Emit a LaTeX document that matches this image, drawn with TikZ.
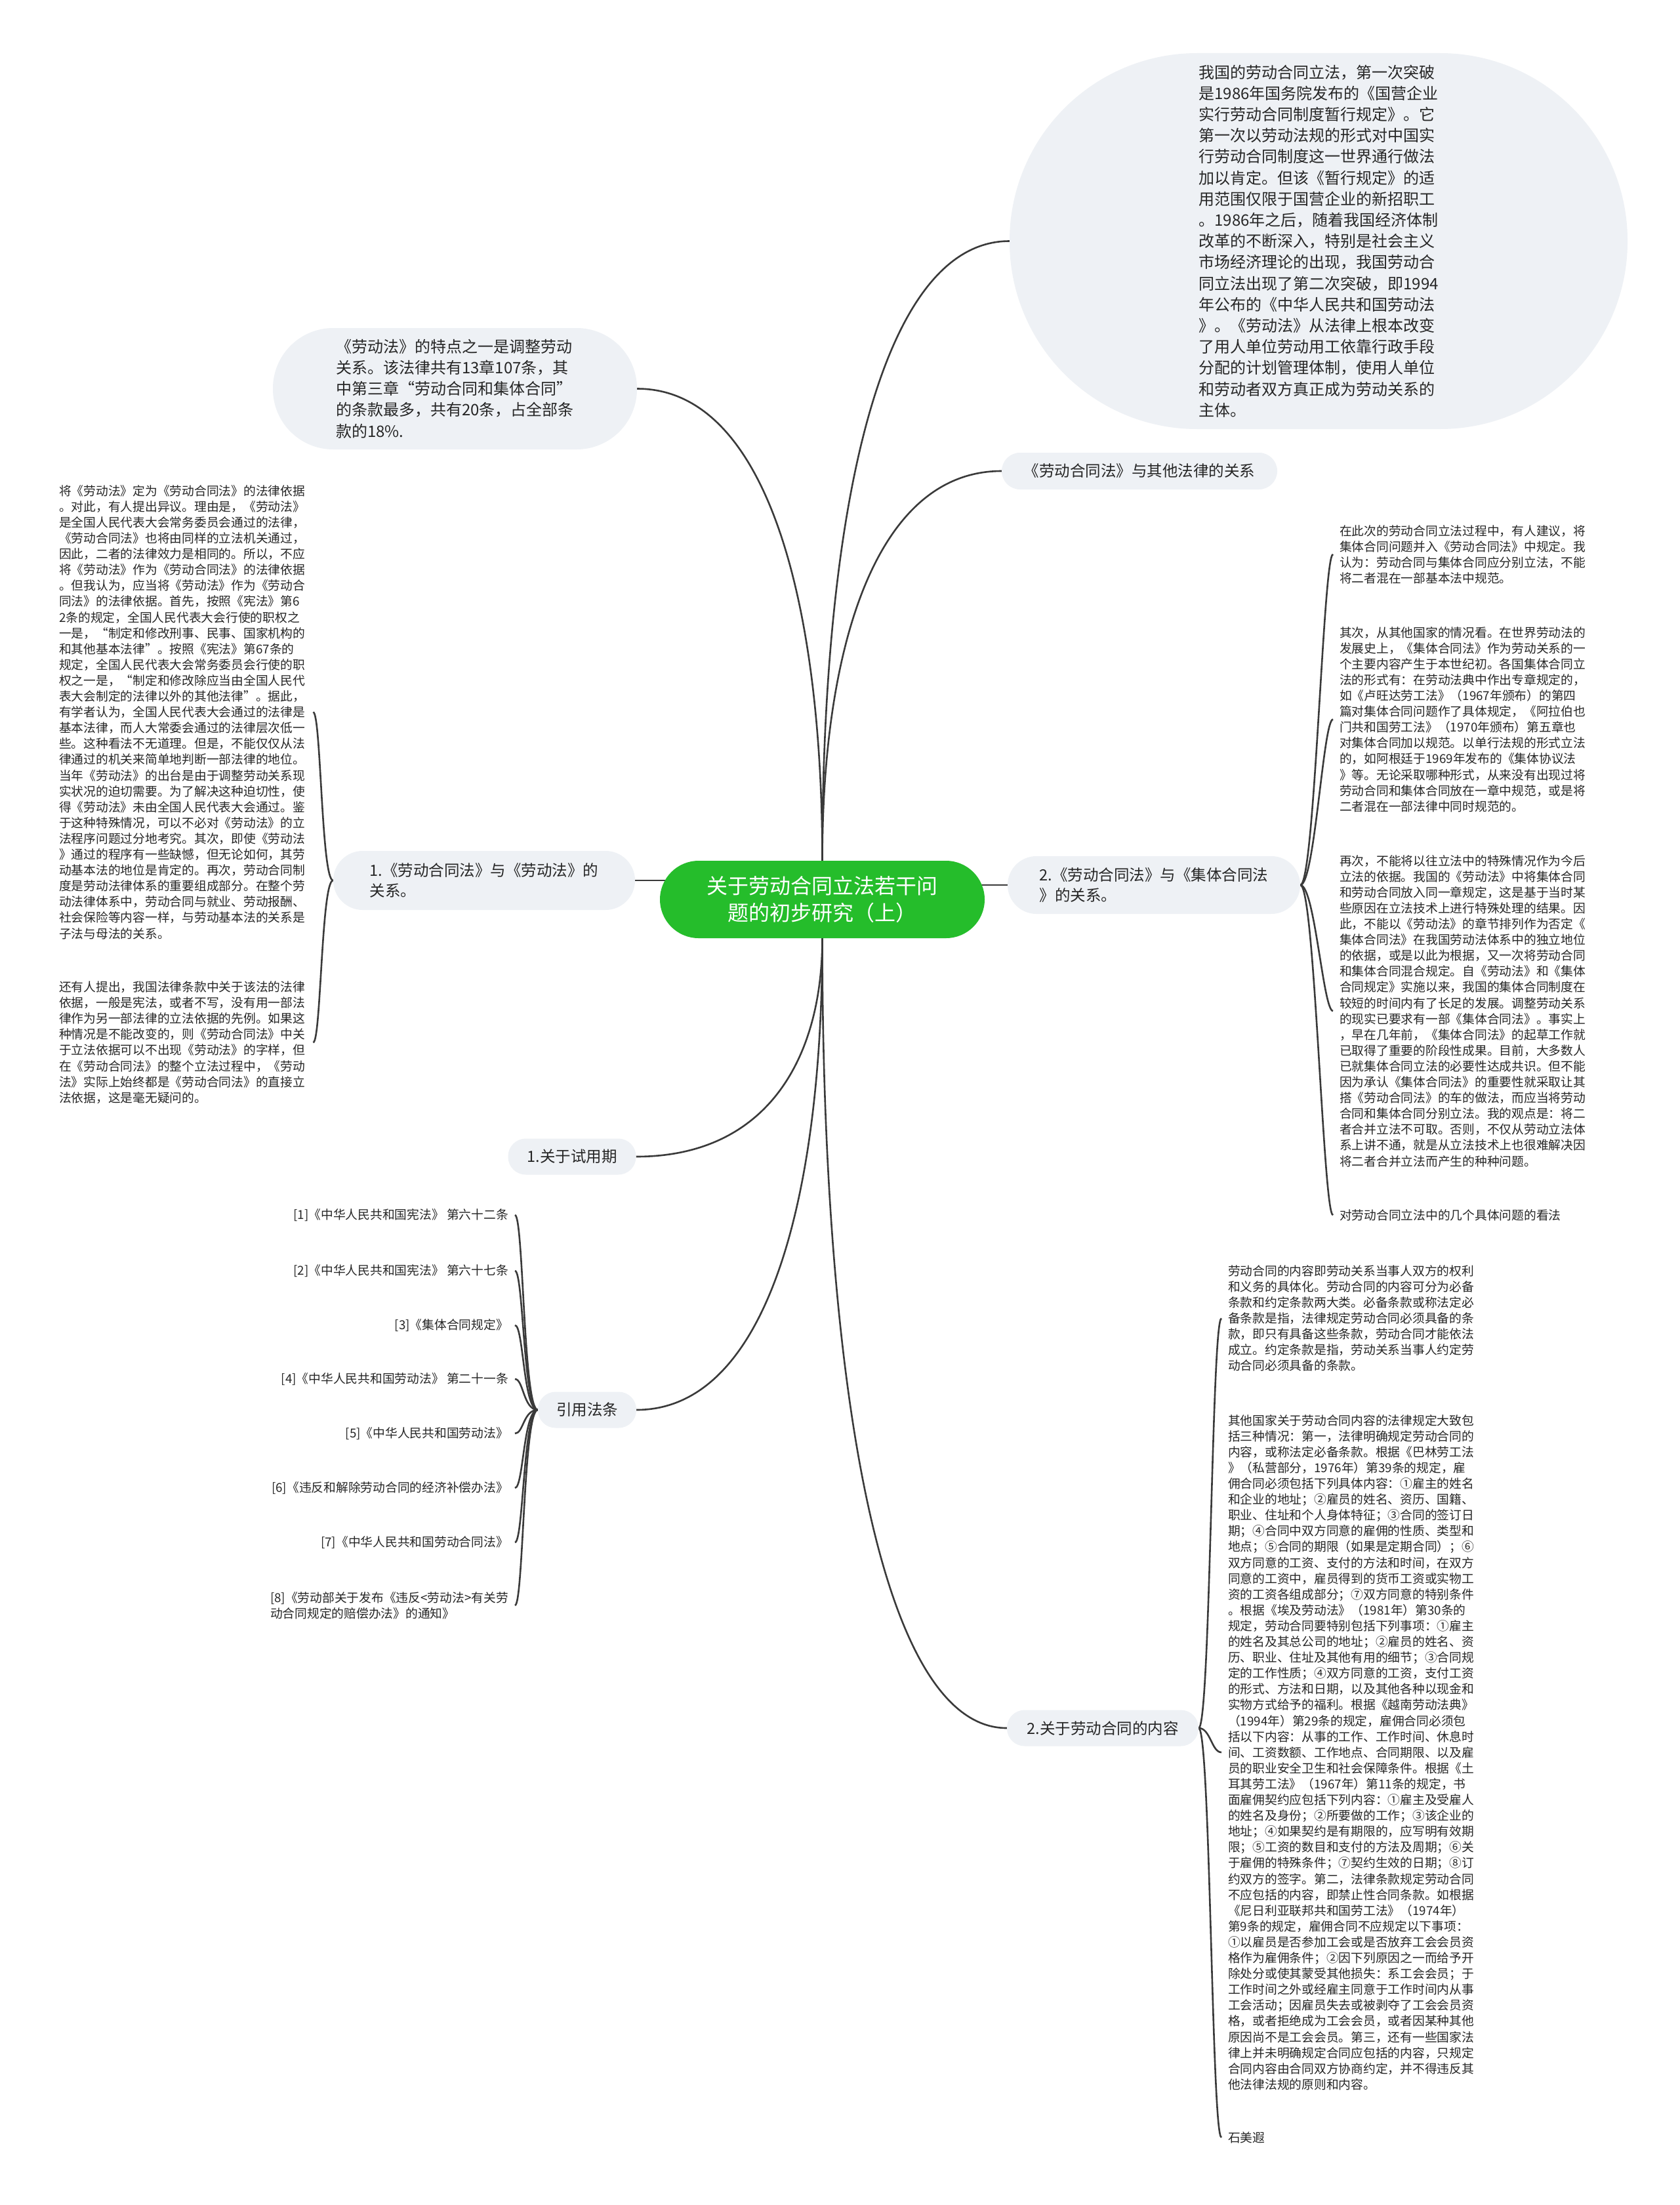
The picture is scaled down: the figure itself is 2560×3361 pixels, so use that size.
\documentclass[tikz,border=0pt]{standalone}
\usepackage{fontspec}
\newfontfamily\cjk{Noto Sans CJK SC}
\newcommand\smallf{\cjk\fontsize{18.75}{24.1}\selectfont}
\newcommand\midf{\cjk\fontsize{24}{32.2}\selectfont}
\newcommand\branchf{\cjk\fontsize{23.5}{31}\selectfont}
\newcommand\rootf{\cjk\fontsize{32}{41}\selectfont}
\definecolor{linec}{HTML}{3A3A3A}
\definecolor{boxc}{HTML}{EEF1F5}
\definecolor{rootc}{HTML}{25BD2B}
\definecolor{textc}{HTML}{262626}
\pgfdeclarelayer{back}
\pgfdeclarelayer{bg}
\pgfsetlayers{back,bg,main}
\begin{document}
\begin{tikzpicture}[x=1pt,y=-1pt,
  conn/.style={draw=linec,line width=2.6pt},
  rootbox/.style={fill=rootc,text=white,font=\rootf,align=center,inner sep=0pt,
    minimum width=495,minimum height=118,rounded corners=59},
  bubble/.style={fill=boxc,text=textc,font=\midf,align=left,inner sep=0pt},
  branch/.style={fill=boxc,text=textc,font=\branchf,align=left,inner sep=0pt},
  para/.style={text=textc,font=\smallf,align=left,inner sep=0pt},
  refitem/.style={text=textc,font=\smallf,align=left,inner sep=0pt,anchor=east}]
\begin{pgfonlayer}{back}
\fill[white] (0,0) rectangle (2560,3361);
\end{pgfonlayer}
\useasboundingbox (0,0) rectangle (2560,3361);

% root
\node[rootbox] (root) at (1253.5,1371) {关于劳动合同立法若干问\\题的初步研究（上）};

% top bubbles
\node[bubble,minimum width=555,minimum height=185,rounded corners=92] (tl) at (693.5,592.5)
{《劳动法》的特点之一是调整劳动\\关系。该法律共有13章107条，其\\中第三章“劳动合同和集体合同”\\的条款最多，共有20条，占全部条\\款的18\%.};

\node[bubble,minimum width=942,minimum height=573,rounded corners=286] (tr) at (2010,367.5)
{我国的劳动合同立法，第一次突破\\是1986年国务院发布的《国营企业\\实行劳动合同制度暂行规定》。它\\第一次以劳动法规的形式对中国实\\行劳动合同制度这一世界通行做法\\加以肯定。但该《暂行规定》的适\\用范围仅限于国营企业的新招职工\\。1986年之后，随着我国经济体制\\改革的不断深入，特别是社会主义\\市场经济理论的出现，我国劳动合\\同立法出现了第二次突破，即1994\\年公布的《中华人民共和国劳动法\\》。《劳动法》从法律上根本改变\\了用人单位劳动用工依靠行政手段\\分配的计划管理体制，使用人单位\\和劳动者双方真正成为劳动关系的\\主体。};

% branches
\node[branch,minimum width=420,minimum height=56,rounded corners=28] (other) at (1737,718) {《劳动合同法》与其他法律的关系};
\node[branch,minimum width=460,minimum height=90,rounded corners=45] (n1) at (738,1342) {1.《劳动合同法》与《劳动法》的\\关系。};
\node[branch,minimum width=446,minimum height=88,rounded corners=44] (n2) at (1759,1349) {2.《劳动合同法》与《集体合同法\\》的关系。};
\node[branch,minimum width=195,minimum height=55,rounded corners=27] (trial) at (872,1763) {1.关于试用期};
\node[branch,minimum width=150,minimum height=55,rounded corners=27] (refs) at (895,2149) {引用法条};
\node[branch,minimum width=292,minimum height=55,rounded corners=27] (cont) at (1681,2634) {2.关于劳动合同的内容};

% left paragraphs
\node[para,anchor=west] (l1) at (90,1085.5)
{将《劳动法》定为《劳动合同法》的法律依据\\。对此，有人提出异议。理由是，《劳动法》\\是全国人民代表大会常务委员会通过的法律，\\《劳动合同法》也将由同样的立法机关通过，\\因此，二者的法律效力是相同的。所以，不应\\将《劳动法》作为《劳动合同法》的法律依据\\。但我认为，应当将《劳动法》作为《劳动合\\同法》的法律依据。首先，按照《宪法》第6\\2条的规定，全国人民代表大会行使的职权之\\一是，“制定和修改刑事、民事、国家机构的\\和其他基本法律”。按照《宪法》第67条的\\规定，全国人民代表大会常务委员会行使的职\\权之一是，“制定和修改除应当由全国人民代\\表大会制定的法律以外的其他法律”。据此，\\有学者认为，全国人民代表大会通过的法律是\\基本法律，而人大常委会通过的法律层次低一\\些。这种看法不无道理。但是，不能仅仅从法\\律通过的机关来简单地判断一部法律的地位。\\当年《劳动法》的出台是由于调整劳动关系现\\实状况的迫切需要。为了解决这种迫切性，使\\得《劳动法》未由全国人民代表大会通过。鉴\\于这种特殊情况，可以不必对《劳动法》的立\\法程序问题过分地考究。其次，即使《劳动法\\》通过的程序有一些缺憾，但无论如何，其劳\\动基本法的地位是肯定的。再次，劳动合同制\\度是劳动法律体系的重要组成部分。在整个劳\\动法律体系中，劳动合同与就业、劳动报酬、\\社会保险等内容一样，与劳动基本法的关系是\\子法与母法的关系。};

\node[para,anchor=west] (l2) at (90,1589)
{还有人提出，我国法律条款中关于该法的法律\\依据，一般是宪法，或者不写，没有用一部法\\律作为另一部法律的立法依据的先例。如果这\\种情况是不能改变的，则《劳动合同法》中关\\于立法依据可以不出现《劳动法》的字样，但\\在《劳动合同法》的整个立法过程中，《劳动\\法》实际上始终都是《劳动合同法》的直接立\\法依据，这是毫无疑问的。};

% right paragraphs
\node[para,anchor=west] (r1) at (2042,845)
{在此次的劳动合同立法过程中，有人建议，将\\集体合同问题并入《劳动合同法》中规定。我\\认为：劳动合同与集体合同应分别立法，不能\\将二者混在一部基本法中规范。};

\node[para,anchor=west] (r2) at (2042,1096.5)
{其次，从其他国家的情况看。在世界劳动法的\\发展史上，《集体合同法》作为劳动关系的一\\个主要内容产生于本世纪初。各国集体合同立\\法的形式有：在劳动法典中作出专章规定的，\\如《卢旺达劳工法》（1967年颁布）的第四\\篇对集体合同问题作了具体规定，《阿拉伯也\\门共和国劳工法》（1970年颁布）第五章也\\对集体合同加以规范。以单行法规的形式立法\\的，如阿根廷于1969年发布的《集体协议法\\》等。无论采取哪种形式，从来没有出现过将\\劳动合同和集体合同放在一章中规范，或是将\\二者混在一部法律中同时规范的。};

\node[para,anchor=west] (r3) at (2042,1541)
{再次，不能将以往立法中的特殊情况作为今后\\立法的依据。我国的《劳动法》中将集体合同\\和劳动合同放入同一章规定，这是基于当时某\\些原因在立法技术上进行特殊处理的结果。因\\此，不能以《劳动法》的章节排列作为否定《\\集体合同法》在我国劳动法体系中的独立地位\\的依据，或是以此为根据，又一次将劳动合同\\和集体合同混合规定。自《劳动法》和《集体\\合同规定》实施以来，我国的集体合同制度在\\较短的时间内有了长足的发展。调整劳动关系\\的现实已要求有一部《集体合同法》。事实上\\，早在几年前，《集体合同法》的起草工作就\\已取得了重要的阶段性成果。目前，大多数人\\已就集体合同立法的必要性达成共识。但不能\\因为承认《集体合同法》的重要性就采取让其\\搭《劳动合同法》的车的做法，而应当将劳动\\合同和集体合同分别立法。我的观点是：将二\\者合并立法不可取。否则，不仅从劳动立法体\\系上讲不通，就是从立法技术上也很难解决因\\将二者合并立法而产生的种种问题。};

\node[para,anchor=west] (r4) at (2042,1852) {对劳动合同立法中的几个具体问题的看法};

% bottom right paragraphs
\node[para,anchor=west] (b1) at (1872,2009.5)
{劳动合同的内容即劳动关系当事人双方的权利\\和义务的具体化。劳动合同的内容可分为必备\\条款和约定条款两大类。必备条款或称法定必\\备条款是指，法律规定劳动合同必须具备的条\\款，即只有具备这些条款，劳动合同才能依法\\成立。约定条款是指，劳动关系当事人约定劳\\动合同必须具备的条款。};

\node[para,anchor=west] (b2) at (1872,2671)
{其他国家关于劳动合同内容的法律规定大致包\\括三种情况：第一，法律明确规定劳动合同的\\内容，或称法定必备条款。根据《巴林劳工法\\》（私营部分，1976年）第39条的规定，雇\\佣合同必须包括下列具体内容：①雇主的姓名\\和企业的地址；②雇员的姓名、资历、国籍、\\职业、住址和个人身体特征；③合同的签订日\\期；④合同中双方同意的雇佣的性质、类型和\\地点；⑤合同的期限（如果是定期合同）；⑥\\双方同意的工资、支付的方法和时间，在双方\\同意的工资中，雇员得到的货币工资或实物工\\资的工资各组成部分；⑦双方同意的特别条件\\。根据《埃及劳动法》（1981年）第30条的\\规定，劳动合同要特别包括下列事项：①雇主\\的姓名及其总公司的地址；②雇员的姓名、资\\历、职业、住址及其他有用的细节；③合同规\\定的工作性质；④双方同意的工资，支付工资\\的形式、方法和日期，以及其他各种以现金和\\实物方式给予的福利。根据《越南劳动法典》\\（1994年）第29条的规定，雇佣合同必须包\\括以下内容：从事的工作、工作时间、休息时\\间、工资数额、工作地点、合同期限、以及雇\\员的职业安全卫生和社会保障条件。根据《土\\耳其劳工法》（1967年）第11条的规定，书\\面雇佣契约应包括下列内容：①雇主及受雇人\\的姓名及身份；②所要做的工作；③该企业的\\地址；④如果契约是有期限的，应写明有效期\\限；⑤工资的数目和支付的方法及周期；⑥关\\于雇佣的特殊条件；⑦契约生效的日期；⑧订\\约双方的签字。第二，法律条款规定劳动合同\\不应包括的内容，即禁止性合同条款。如根据\\《尼日利亚联邦共和国劳工法》（1974年）\\第9条的规定，雇佣合同不应规定以下事项：\\①以雇员是否参加工会或是否放弃工会会员资\\格作为雇佣条件；②因下列原因之一而给予开\\除处分或使其蒙受其他损失：系工会会员；于\\工作时间之外或经雇主同意于工作时间内从事\\工会活动；因雇员失去或被剥夺了工会会员资\\格，或者拒绝成为工会会员，或者因某种其他\\原因尚不是工会会员。第三，还有一些国家法\\律上并未明确规定合同应包括的内容，只规定\\合同内容由合同双方协商约定，并不得违反其\\他法律法规的原则和内容。};

\node[para,anchor=west] (b3) at (1872,3258) {石美遐};

% references
\node[refitem] (f1) at (775,1852) {[1]《中华人民共和国宪法》 第六十二条};
\node[refitem] (f2) at (775,1937) {[2]《中华人民共和国宪法》 第六十七条};
\node[refitem] (f3) at (775,2020) {[3]《集体合同规定》};
\node[refitem] (f4) at (775,2102) {[4]《中华人民共和国劳动法》 第二十一条};
\node[refitem] (f5) at (775,2185) {[5]《中华人民共和国劳动法》};
\node[refitem] (f6) at (775,2268) {[6]《违反和解除劳动合同的经济补偿办法》};
\node[refitem] (f7) at (775,2351) {[7]《中华人民共和国劳动合同法》};
\node[refitem] (f8) at (775,2447) {[8]《劳动部关于发布《违反<劳动法>有关劳\\动合同规定的赔偿办法》的通知》};

% connectors
\begin{pgfonlayer}{bg}
\draw[conn] (root.north) .. controls +(0,-396) and +(197,0) .. (tl.east);
\draw[conn] (root.north) .. controls +(0,-520) and +(-200,0) .. (tr.west);
\draw[conn] (root.north) .. controls +(0,-327) and +(-191,0) .. (other.west);
\draw[conn] (root.south) .. controls +(0,184) and +(199,0) .. (trial.east);
\draw[conn] (root.south) .. controls +(0,396) and +(199,0) .. (refs.east);
\draw[conn] (root.south) .. controls +(0,662) and +(-197,0) .. (cont.west);
\draw[conn] (n1.east) -- (n1.east -| root.center);
\draw[conn] (n2.west) -- (n2.west -| root.center);
\foreach \c in {l1,l2}
  \draw[conn] (n1.west) .. controls +(-18,0) and +(12,0) .. ([xshift=12pt]\c.east);
\foreach \c in {r1,r2,r3,r4}
  \draw[conn] (n2.east) .. controls +(22,0) and +(-15,0) .. ([xshift=-10pt]\c.west);
\foreach \c in {b1,b2,b3}
  \draw[conn] (cont.east) .. controls +(18,0) and +(-15,0) .. ([xshift=-10pt]\c.west);
\foreach \c in {f1,f2,f3,f4,f5,f6,f7,f8}
  \draw[conn] (refs.west) .. controls +(-22,0) and +(13,0) .. ([xshift=10pt]\c.east);
\end{pgfonlayer}
\end{tikzpicture}
\end{document}
